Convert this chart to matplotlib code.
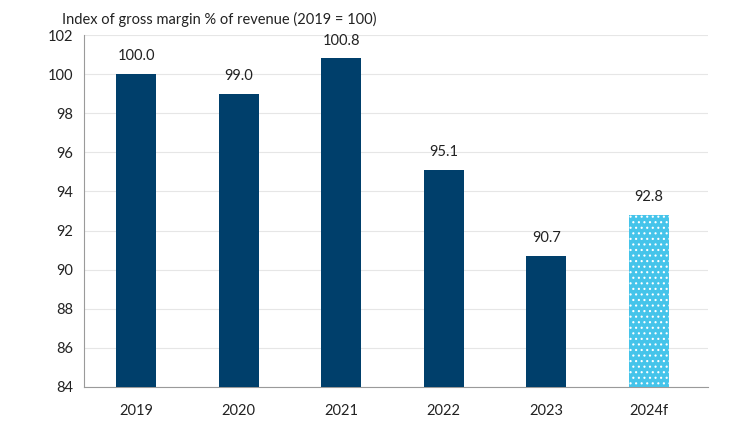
import matplotlib
matplotlib.use('Agg')
import matplotlib.pyplot as plt

plt.rcParams['font.family'] = ['Lato', 'DejaVu Sans']
plt.rcParams['hatch.linewidth'] = 0.8

## data
years = ['2019', '2020', '2021', '2022', '2023', '2024f']
values = [100.0, 99.0, 100.8, 95.1, 90.7, 92.8]
forecast = [False, False, False, False, False, True]

navy = '#003F6B'
light = '#45C4EA'

fig = plt.figure(figsize=(7.5, 4.22), dpi=100)
ax = fig.add_axes([0.112, 0.083, 0.832, 0.834])

x = range(len(years))
for i, (v, f) in enumerate(zip(values, forecast)):
    if f:
        ax.bar(i, v - 84, bottom=84, width=0.39, color=light, edgecolor='white',
               hatch='...', linewidth=0, zorder=3)
    else:
        ax.bar(i, v - 84, bottom=84, width=0.39, color=navy, linewidth=0, zorder=3)
    ax.text(i, v + 0.55, '%.1f' % v, ha='center', va='bottom', fontsize=10.5, color='#222222')

ax.set_ylim(84, 102)
ax.set_xlim(-0.507, 5.575)
ax.set_yticks(range(84, 103, 2))
ax.set_xticks(list(x))
ax.set_xticklabels(years)
ax.tick_params(axis='both', length=0, labelsize=10.5, colors='#222222')
ax.tick_params(axis='x', pad=12)
ax.tick_params(axis='y', pad=8)
ax.grid(axis='y', color='#E6E6E6', linewidth=0.8, zorder=0)

for s in ['top', 'right']:
    ax.spines[s].set_visible(False)
ax.spines['left'].set_color('#9A9A9A')
ax.spines['bottom'].set_color('#9A9A9A')

fig.text(0.083, 0.955, 'Index of gross margin % of revenue (2019 = 100)',
         fontsize=10.5, color='#222222', va='center', ha='left')

fig.savefig('out.png', dpi=100)
